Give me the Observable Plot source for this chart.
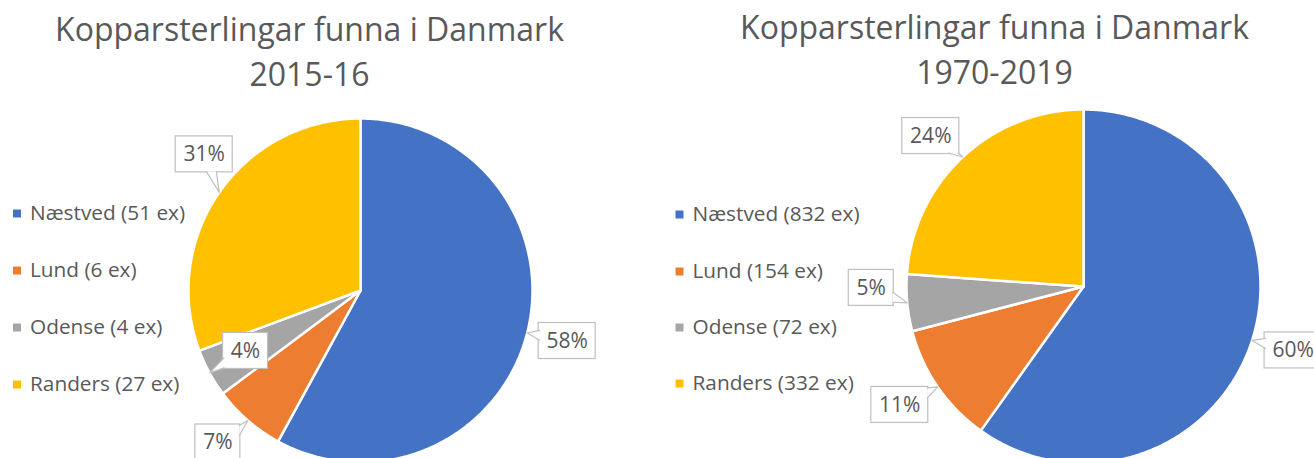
<!DOCTYPE html>
<html><head><meta charset="utf-8">
<script src="https://cdn.jsdelivr.net/npm/d3@7"></script>
<script src="https://cdn.jsdelivr.net/npm/@observablehq/plot@0.6"></script>
<style>body{margin:0;background:#fff;overflow:hidden}</style>
</head><body><div id="chart"></div>
<script>
// ---- data ----
const categories = ["Næstved", "Lund", "Odense", "Randers"];
const counts2015 = [51, 6, 4, 27];
const counts1970 = [832, 154, 72, 332];
const pctLabels2015 = ["58%", "7%", "4%", "31%"];
const pctLabels1970 = ["60%", "11%", "5%", "24%"];
const titleLine1 = "Kopparsterlingar funna i Danmark";
const periods = ["2015-16", "1970-2019"];
const colors = ["#4472C4", "#ED7D31", "#A5A5A5", "#FFC000"];

// ---- layout ----
const W = 1314, H = 458;
const FONT = "'Open Sans', Lato, sans-serif";
const TEXT = "#595959";
const panels = [
  {counts: counts2015, pcts: pctLabels2015, period: periods[0], cx: 360, cy: 290, r: 172,
   titleX: 309, titleY: [30, 75], legendX: 16.5, legendY: [213, 270, 327, 384],
   nudge: [[40, 8], [-30, 22], [36, -22], [-15, -38]]},
  {counts: counts1970, pcts: pctLabels1970, period: periods[1], cx: 1083, cy: 286, r: 177,
   titleX: 994, titleY: [28, 73], legendX: 679, legendY: [214, 271, 327, 383],
   nudge: [[41, 10], [-38, 18], [-36, -15], [-32, -21]]}
];

const slicePts = [], boxes = [], wedges = [], legend = [], titles = [];
panels.forEach((p, pi) => {
  const arcs = d3.pie().sort(null).value(d => d)(p.counts);
  arcs.forEach((a, i) => {
    const id = pi + "-" + i;
    const cat = categories[i];
    slicePts.push({id, cat, x: p.cx, y: p.cy});
    const n = Math.max(2, Math.ceil((a.endAngle - a.startAngle) / 0.01));
    for (let k = 0; k <= n; k++) {
      const t = a.startAngle + (a.endAngle - a.startAngle) * k / n;
      slicePts.push({id, cat, x: p.cx + p.r * Math.sin(t), y: p.cy - p.r * Math.cos(t)});
    }
    slicePts.push({id, cat, x: p.cx, y: p.cy});
    // label
    const m = (a.startAngle + a.endAngle) / 2;
    const tx = p.cx + p.r * Math.sin(m), ty = p.cy - p.r * Math.cos(m);
    const bx = tx + p.nudge[i][0], by = ty + p.nudge[i][1];
    const label = p.pcts[i];
    const w = 21 + 12 * label.length, h = 36;
    boxes.push({x1: bx - w / 2, x2: bx + w / 2, y1: by - h / 2, y2: by + h / 2, x: bx, y: by, label});
    const dx = tx - bx, dy = ty - by;
    let b1, b2;
    if (Math.abs(dx) / (w / 2) >= Math.abs(dy) / (h / 2)) {
      const ex = bx + Math.sign(dx) * (w / 2 - 1);
      let ey = by + dy * (w / 2) / Math.abs(dx);
      ey = Math.max(by - h / 2 + 6, Math.min(by + h / 2 - 6, ey));
      b1 = [ex, ey - 5]; b2 = [ex, ey + 5];
    } else {
      const ey = by + Math.sign(dy) * (h / 2 - 1);
      let ex = bx + dx * (h / 2) / Math.abs(dy);
      ex = Math.max(bx - w / 2 + 6, Math.min(bx + w / 2 - 6, ex));
      b1 = [ex - 5, ey]; b2 = [ex + 5, ey];
    }
    wedges.push({id, x: b1[0], y: b1[1]}, {id, x: tx, y: ty}, {id, x: b2[0], y: b2[1]});
    legend.push({cat, x: p.legendX, y: p.legendY[i], text: `${cat} (${p.counts[i]} ex)`});
  });
  titles.push({x: p.titleX, y: p.titleY[0], text: titleLine1});
  titles.push({x: p.titleX, y: p.titleY[1], text: p.period});
});

const chart = Plot.plot({
  width: W, height: H,
  margin: 0,
  x: {domain: [0, W], range: [0, W], axis: null},
  y: {domain: [0, H], range: [0, H], axis: null},
  color: {domain: categories, range: colors},
  style: {fontFamily: FONT, background: "#fff"},
  marks: [
    Plot.line(slicePts, {x: "x", y: "y", z: "id", fill: "cat", stroke: "white", strokeWidth: 2.5, strokeLinejoin: "round", curve: "linear"}),
    Plot.rect(boxes, {x1: "x1", x2: "x2", y1: "y1", y2: "y2", fill: "white", stroke: "#BFBFBF", strokeWidth: 1.2}),
    Plot.line(wedges, {x: "x", y: "y", z: "id", fill: "white", stroke: "#BFBFBF", strokeWidth: 1.2, curve: "linear"}),
    Plot.text(boxes, {x: "x", y: "y", text: "label", fill: TEXT, fontSize: 21, fontFamily: FONT}),
    Plot.dot(legend, {x: "x", y: "y", symbol: "square", r: 4.5, fill: "cat", stroke: null}),
    Plot.text(legend, {x: d => d.x + 13, y: "y", text: "text", textAnchor: "start", fill: TEXT, fontSize: 20.8, fontFamily: FONT}),
    Plot.text(titles, {x: "x", y: "y", text: "text", fill: TEXT, fontSize: 32, fontFamily: FONT})
  ]
});
document.getElementById("chart").appendChild(chart);
</script>
</body></html>
